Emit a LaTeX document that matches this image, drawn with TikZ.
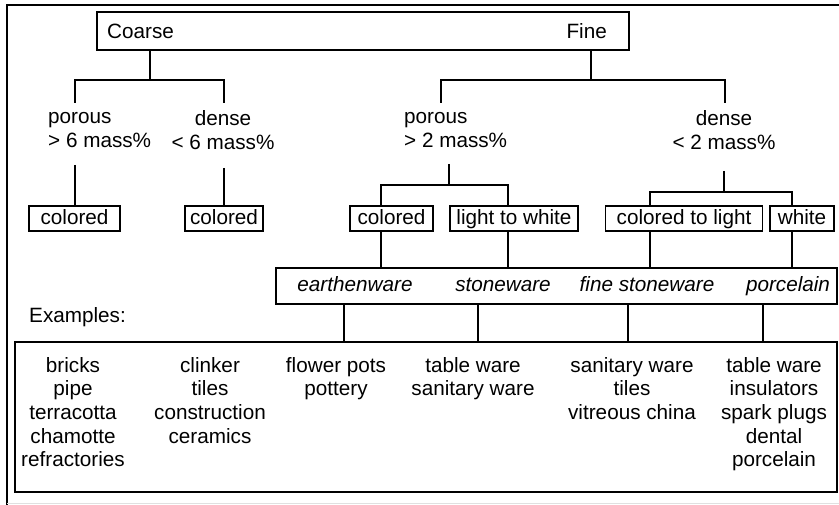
\documentclass[tikz,border=0pt]{standalone}
\usepackage{fontspec}
\setmainfont{Liberation Sans}
\usepackage{tikz}
\usetikzlibrary{positioning}

\begin{document}
\begin{tikzpicture}[
    x=1bp, y=-1bp,
    font=\fontsize{20.7bp}{23.6bp}\selectfont,
    headbox/.style={draw, line width=2.6bp, minimum width=532bp, minimum height=38bp, inner sep=0pt},
    grp/.style={inner sep=0pt},
    tag/.style={draw, line width=1.3bp, minimum height=25bp, inner sep=0pt, text height=16bp, text depth=3bp},
    ware/.style={draw, line width=1.2bp, minimum width=561bp, minimum height=36bp, inner sep=0pt},
    kind/.style={inner sep=0pt, anchor=base, font=\fontsize{20.7bp}{23.6bp}\selectfont\itshape},
    exbox/.style={draw, line width=1.2bp, minimum width=822bp, minimum height=150bp, inner sep=0pt},
    extext/.style={inner sep=0pt, align=center, anchor=north},
    link/.style={line width=1.2bp}
]
    \useasboundingbox (0,0) rectangle (839,505);

    % Frame
    \draw[line width=2.2bp] (7,505) -- (7,5) -- (839,5);
    \draw[black!12] (7,503) -- (839,503);

    % Top box
    \node[headbox] (grain) at (363,31) {};
    \node[grp, anchor=west] (coarse) at (107,31) {Coarse};
    \node[grp, anchor=east] (fine) at (607,31) {Fine};

    % Porosity
    \node[grp, align=left, anchor=west] (por1) at (48,130) {porous\\> 6 mass\%};
    \node[grp, align=center] (den1) at (223,130) {dense\\< 6 mass\%};
    \node[grp, align=left, anchor=west] (por2) at (404,130) {porous\\> 2 mass\%};
    \node[grp, align=center] (den2) at (724,130) {dense\\< 2 mass\%};

    % Colour
    \node[tag, minimum width=91bp] (c1) at (74.5,218.5) {colored};
    \node[tag, minimum width=78bp] (c2) at (224,218.5) {colored};
    \node[tag, minimum width=83bp] (c3) at (391.5,218.5) {colored};
    \node[tag, minimum width=128bp] (c4) at (514,218.5) {light to white};
    \node[tag, minimum width=157bp] (c5) at (684,218.5) {colored to light};
    \node[tag, minimum width=64bp] (c6) at (802,218.5) {white};

    % Kinds
    \node[ware] (kinds) at (556.5,286) {};
    \node[kind] (earth) at (355,292) {earthenware};
    \node[kind] (stone) at (503,292) {stoneware};
    \node[kind] (finestone) at (647,292) {fine stoneware};
    \node[kind] (porc) at (788,292) {porcelain};

    % Examples
    \node[grp, anchor=west] (exlabel) at (29,317) {Examples:};
    \node[exbox] (examples) at (426,417) {};
    \node[extext] (e1) at (73,357) {bricks\\pipe\\terracotta\\chamotte\\refractories};
    \node[extext] (e2) at (210,357) {clinker\\tiles\\construction\\ceramics};
    \node[extext] (e3) at (336,357) {flower pots\\pottery};
    \node[extext] (e4) at (473,357) {table ware\\sanitary ware};
    \node[extext] (e5) at (632,357) {sanitary ware\\tiles\\vitreous china};
    \node[extext] (e6) at (774,357) {table ware\\insulators\\spark plugs\\dental\\porcelain};

    % Junctions
    \coordinate (j1) at (150,80);
    \coordinate (j2) at (591,80);
    \coordinate (a1) at (75,103);
    \coordinate (a2) at (224,103);
    \coordinate (a3) at (441,103);
    \coordinate (a4) at (725,103);
    \coordinate (b1) at (75,165);
    \coordinate (b2) at (224,168);
    \coordinate (b3) at (449,164);
    \coordinate (b4) at (724,171);
    \coordinate (j3) at (449,185);
    \coordinate (j4) at (724,192);
    \coordinate (k3) at (381,185);
    \coordinate (k4) at (508,185);
    \coordinate (k5) at (650,192);
    \coordinate (k6) at (792,192);

    % Lines
    \draw[link] (grain.south -| j1) -- (j1);
    \draw[link] (a1) |- (j1) -| (a2);
    \draw[link] (grain.south -| j2) -- (j2);
    \draw[link] (a3) |- (j2) -| (a4);
    \draw[link] (b1) -- (b1 |- c1.north);
    \draw[link] (b2) -- (b2 |- c2.north);
    \draw[link] (b3) -- (j3);
    \draw[link] (k3 |- c3.north) |- (j3) -| (k4 |- c4.north);
    \draw[link] (b4) -- (j4);
    \draw[link] (k5 |- c5.north) |- (j4) -| (k6 |- c6.north);
    \foreach \k/\c in {k3/c3, k4/c4, k5/c5, k6/c6}
        \draw[link] (\c.south -| \k) -- (kinds.north -| \k);
    \foreach \x in {344, 478, 628, 763}
        \draw[link] (kinds.south -| \x,0) -- (examples.north -| \x,0);
\end{tikzpicture}
\end{document}
